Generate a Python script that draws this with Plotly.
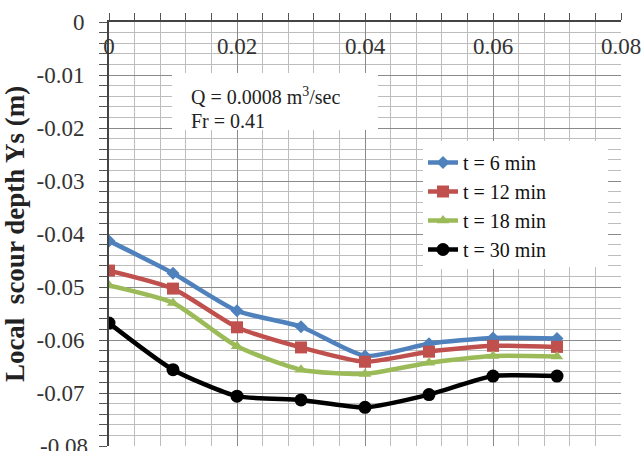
import plotly.graph_objects as go

x_vals = [0, 0.01, 0.02, 0.03, 0.04, 0.05, 0.06, 0.07]
t6 = [-0.0413, -0.0474, -0.0545, -0.0575, -0.0630, -0.0607, -0.0596, -0.0597]
t12 = [-0.0469, -0.0503, -0.0576, -0.0614, -0.0641, -0.0622, -0.0611, -0.0613]
t18 = [-0.0497, -0.0530, -0.0612, -0.0656, -0.0664, -0.0643, -0.0630, -0.0631]
t30 = [-0.0568, -0.0656, -0.0706, -0.0713, -0.0727, -0.0703, -0.0668, -0.0668]
names = ["t = 6 min", "t = 12 min", "t = 18 min", "t = 30 min"]
x_tickvals = [0, 0.02, 0.04, 0.06, 0.08]
x_ticktext = ["0", "0.02", "0.04", "0.06", "0.08"]
y_tickvals = [0, -0.01, -0.02, -0.03, -0.04, -0.05, -0.06, -0.07]
y_ticktext = ["0", "-0.01", "-0.02", "-0.03", "-0.04", "-0.05", "-0.06", "-0.07"]
y_bottom_label = "-0.08"

colors = ["#4F81BD", "#C0504D", "#9BBB59", "#000000"]
symbols = ["diamond", "square", "triangle-up", "circle"]
msizes = [10, 12, 11, 13]

W, H = 643, 451
L, R, T, B = 109, 22, 22, 5
pw, ph = W - L - R, H - T - B

def px(xp):
    return (xp - L) / pw

def py(yp):
    return 1 - (yp - T) / ph

fig = go.Figure()
for ys, n, c, s, m in zip([t6, t12, t18, t30], names, colors, symbols, msizes):
    fig.add_trace(go.Scatter(
        x=x_vals, y=ys, name=n, mode="lines+markers",
        line=dict(color=c, width=4.5, shape="spline", smoothing=0.6),
        marker=dict(symbol=s, size=m, color=c),
    ))

font = "Liberation Serif, Times New Roman, serif"
fig.update_layout(
    width=W, height=H,
    margin=dict(l=L, r=R, t=T, b=B, autoexpand=False),
    paper_bgcolor="white", plot_bgcolor="white",
    font=dict(family=font, color="#222"),
    showlegend=True,
    legend=dict(
        x=px(423), y=py(143), xanchor="left", yanchor="top",
        bgcolor="white", font=dict(size=20, family=font, color="#111"),
        borderwidth=0,
    ),
    xaxis=dict(
        range=[0, 0.08], side="top", automargin=False,
        tickmode="array", tickvals=x_tickvals, ticktext=x_ticktext,
        showgrid=True, gridcolor="#8a8a8a", gridwidth=1,
        showline=True, linecolor="#444", linewidth=2,
        ticks="outside", ticklen=7, tickcolor="#555",
        ticklabelstandoff=-50,
        tickfont=dict(size=23, family=font, color="#333"),
        zeroline=False,
        minor=dict(dtick=0.004, tick0=0, showgrid=True, gridcolor="#bdbdbd",
                   ticks="outside", ticklen=7, tickcolor="#555"),
    ),
    yaxis=dict(
        range=[-0.08, 0], automargin=False,
        tickmode="array", tickvals=y_tickvals, ticktext=y_ticktext,
        showgrid=True, gridcolor="#8a8a8a", gridwidth=1,
        showline=True, linecolor="#444", linewidth=2,
        ticks="outside", ticklen=8, tickcolor="#555",
        ticklabelstandoff=10,
        tickfont=dict(size=23, family=font, color="#333"),
        zeroline=False,
        title=dict(text="<b>Local  scour depth Ys (m)</b>", standoff=4,
                   font=dict(size=27, family=font, color="#222")),
        minor=dict(dtick=0.002, tick0=0, showgrid=True, gridcolor="#bdbdbd",
                   ticks="outside", ticklen=8, tickcolor="#555"),
    ),
)

# the -0.08 label at the bottom edge (cut off by the frame, as in the original)
fig.add_annotation(xref="paper", yref="y", x=px(90), y=-0.08,
                   xanchor="right", yanchor="middle", showarrow=False,
                   text=y_bottom_label,
                   font=dict(size=23, family=font, color="#333"))

# white backdrops for the text box and the (wider) legend area
fig.add_shape(type="rect", xref="paper", yref="paper",
              x0=px(172), x1=px(378), y0=py(130), y1=py(73),
              fillcolor="white", line=dict(width=0), layer="above")
fig.add_shape(type="rect", xref="paper", yref="paper",
              x0=px(423), x1=px(608), y0=py(267), y1=py(141),
              fillcolor="white", line=dict(width=0), layer="above")
fig.add_annotation(xref="paper", yref="paper", x=px(189), y=py(96),
                   xanchor="left", yanchor="middle", showarrow=False,
                   text="Q = 0.0008 m<sup>3</sup>/sec",
                   font=dict(size=20, family=font, color="#222"))
fig.add_annotation(xref="paper", yref="paper", x=px(189), y=py(121),
                   xanchor="left", yanchor="middle", showarrow=False,
                   text="Fr = 0.41",
                   font=dict(size=20, family=font, color="#222"))

fig.write_html("out.html")
